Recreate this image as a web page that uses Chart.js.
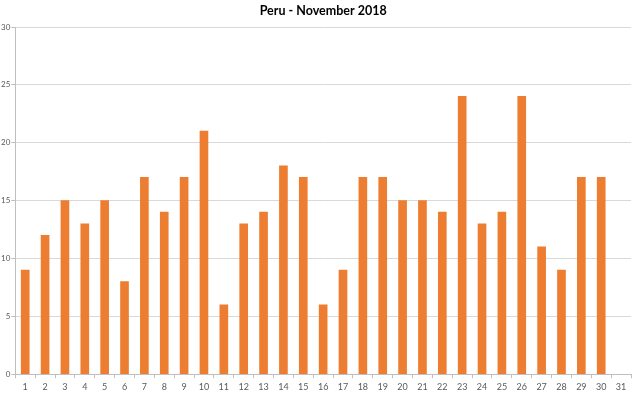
<!DOCTYPE html>
<html><head><meta charset="utf-8">
<script src="https://cdn.jsdelivr.net/npm/chart.js@4"></script>
<style>html,body{margin:0;padding:0;background:#fff}#wrap{width:640px;height:395px}</style>
</head><body><div id="wrap"><canvas id="c" width="640" height="395"></canvas></div>
<script>
const title = "Peru - November 2018";
const days = ["1","2","3","4","5","6","7","8","9","10","11","12","13","14","15","16","17","18","19","20","21","22","23","24","25","26","27","28","29","30","31"];
const values = [9,12,15,13,15,8,17,14,17,21,6,13,14,18,17,6,9,17,17,15,15,14,24,13,14,24,11,9,17,17,null];
const yTicks = [0,5,10,15,20,25,30];

new Chart(document.getElementById('c'), {
  type: 'bar',
  data: { labels: days, datasets: [{ data: values, backgroundColor: '#ED7D31', borderWidth: 0, barThickness: 8 }] },
  options: {
    responsive: false, animation: false,
    layout: { padding: { left: 0, right: 9, top: 0, bottom: 0 } },
    plugins: {
      legend: { display: false }, tooltip: { enabled: false },
      title: { display: true, fullSize: false, text: title, color: '#000', font: { family: 'Lato', size: 12.5, weight: 'bold' }, padding: { top: 3, bottom: 9 } }
    },
    scales: {
      x: {
        offset: true,
        grid: { offset: true, drawOnChartArea: false, drawTicks: true, tickLength: 4, color: '#bfbfbf' },
        border: { color: '#bfbfbf' },
        ticks: { color: '#595959', font: { family: 'Lato', size: 9 }, padding: 3, maxRotation: 0, autoSkip: false }
      },
      y: {
        min: 0, max: 30,
        afterBuildTicks: s => { s.ticks = yTicks.map(v => ({ value: v })); },
        grid: { color: '#d9d9d9', tickLength: 4, tickColor: '#bfbfbf' },
        border: { color: '#bfbfbf' },
        ticks: { color: '#595959', font: { family: 'Lato', size: 8 }, padding: 1 }
      }
    }
  }
});
</script></body></html>
